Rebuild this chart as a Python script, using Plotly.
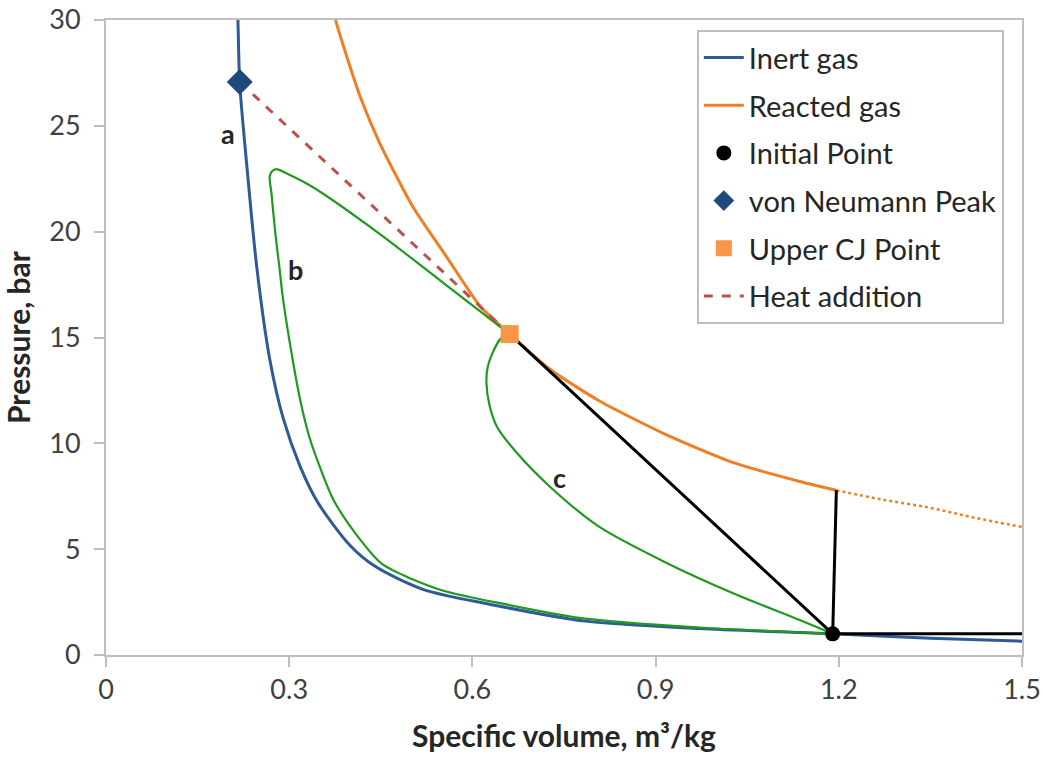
import plotly.graph_objects as go

# ---- data ----
inert_v = [0.2135, 0.216, 0.219, 0.231, 0.247, 0.268, 0.290, 0.318, 0.347, 0.399, 0.440, 0.519, 0.628, 0.785, 0.972, 1.136, 1.19, 1.35, 1.5]
inert_p = [31.5, 30.0, 27.0, 23.0, 18.3, 14.0, 11.2, 8.9, 7.2, 5.2, 4.2, 3.1, 2.4, 1.6, 1.25, 1.06, 1.0, 0.79, 0.65]

react_v = [0.370, 0.376, 0.394, 0.416, 0.448, 0.502, 0.558, 0.612, 0.661, 0.727, 0.808, 0.918, 1.026, 1.136, 1.196]
react_p = [31.0, 30.0, 28.3, 26.4, 24.2, 21.2, 18.8, 16.5, 15.16, 13.5, 12.0, 10.4, 9.1, 8.2, 7.78]

react_ext_v = [1.196, 1.27, 1.35, 1.42, 1.5]
react_ext_p = [7.78, 7.35, 6.95, 6.5, 6.05]

path_b_v = [1.19, 1.136, 0.972, 0.785, 0.645, 0.551, 0.500, 0.452, 0.415, 0.373, 0.350, 0.333, 0.318, 0.306, 0.290, 0.284, 0.277, 0.271, 0.268, 0.272, 0.279, 0.296, 0.339, 0.448, 0.547, 0.661]
path_b_p = [1.0, 1.07, 1.3, 1.72, 2.45, 3.05, 3.6, 4.3, 5.5, 7.3, 8.9, 10.3, 12.05, 13.9, 16.8, 18.3, 20.0, 21.8, 22.6, 22.85, 22.95, 22.75, 22.1, 19.9, 17.7, 15.16]

path_c_v = [0.661, 0.645, 0.632, 0.625, 0.623, 0.628, 0.640, 0.673, 0.727, 0.808, 0.918, 1.026, 1.136, 1.19]
path_c_p = [15.16, 14.9, 14.2, 13.6, 12.85, 11.8, 10.8, 9.54, 7.95, 6.05, 4.35, 2.93, 1.65, 1.0]

rayleigh_v = [0.661, 1.19]
rayleigh_p = [15.16, 1.0]
const_vol_v = [1.19, 1.196]
const_vol_p = [1.0, 7.78]
const_p_v = [1.19, 1.5]
const_p_p = [1.0, 1.0]

heat_v = [0.219, 0.661]
heat_p = [27.07, 15.16]

initial_v, initial_p = [1.19], [1.0]
vn_v, vn_p = [0.219], [27.07]
cj_v, cj_p = [0.661], [15.16]

labels = ["a", "b", "c"]
label_v = [0.200, 0.311, 0.743]
label_p = [24.66, 18.2, 8.4]

x_ticks = [0, 0.3, 0.6, 0.9, 1.2, 1.5]
y_ticks = [0, 5, 10, 15, 20, 25, 30]

# ---- figure ----
BLUE = "#2E5B97"
ORANGE = "#F07E22"
GREEN = "#1E9A1E"
FONT = "Lato"

fig = go.Figure()

fig.add_trace(go.Scatter(x=inert_v, y=inert_p, mode="lines", name="Inert gas",
                         line=dict(color=BLUE, width=3, shape="spline", smoothing=0.8),
                         legendgroup="g1", legendrank=1))
fig.add_trace(go.Scatter(x=react_v, y=react_p, mode="lines", name="Reacted gas",
                         line=dict(color=ORANGE, width=3, shape="spline", smoothing=0.6),
                         legendgroup="g2", legendrank=2))
fig.add_trace(go.Scatter(x=react_ext_v, y=react_ext_p, mode="lines", showlegend=False,
                         line=dict(color=ORANGE, width=2.5, dash="dot", shape="spline")))
fig.add_trace(go.Scatter(x=path_b_v, y=path_b_p, mode="lines", showlegend=False,
                         line=dict(color=GREEN, width=2.2, shape="spline", smoothing=0.8)))
fig.add_trace(go.Scatter(x=path_c_v, y=path_c_p, mode="lines", showlegend=False,
                         line=dict(color=GREEN, width=2.2, shape="spline", smoothing=0.8)))
for xs, ys in [(rayleigh_v, rayleigh_p), (const_vol_v, const_vol_p), (const_p_v, const_p_p)]:
    fig.add_trace(go.Scatter(x=xs, y=ys, mode="lines", showlegend=False,
                             line=dict(color="black", width=3)))
fig.add_trace(go.Scatter(x=heat_v, y=heat_p, mode="lines", name="Heat addition",
                         line=dict(color="#C0504D", width=3, dash="dash"),
                         legendgroup="g6", legendrank=6))
fig.add_trace(go.Scatter(x=initial_v, y=initial_p, mode="markers", name="Initial Point",
                         marker=dict(color="black", size=15, symbol="circle"),
                         legendgroup="g3", legendrank=3))
fig.add_trace(go.Scatter(x=vn_v, y=vn_p, mode="markers", name="von Neumann Peak",
                         marker=dict(color="#1F497D", size=20, symbol="diamond"),
                         legendgroup="g4", legendrank=4))
fig.add_trace(go.Scatter(x=cj_v, y=cj_p, mode="markers", name="Upper CJ Point",
                         marker=dict(color="#F79646", size=18, symbol="square"),
                         legendgroup="g5", legendrank=5))

for t, xv, yv in zip(labels, label_v, label_p):
    fig.add_annotation(x=xv, y=yv, text=f"<b>{t}</b>", showarrow=False,
                       font=dict(family=FONT, size=27, color="#262626"))

axis_common = dict(showline=True, linecolor="#BFBFBF", linewidth=2, mirror=True,
                   ticks="outside", tickcolor="#BFBFBF", ticklen=10, tickwidth=2,
                   showgrid=False, zeroline=False, automargin=False,
                   tickfont=dict(family=FONT, size=27, color="#404040"))

fig.update_xaxes(range=[0, 1.5], tickvals=x_ticks, ticktext=[str(v) for v in x_ticks],
                 title=dict(text="<b>Specific volume, m³/kg</b>", standoff=22,
                            font=dict(family=FONT, size=30, color="#262626")),
                 **axis_common)
fig.update_yaxes(range=[0, 30], tickvals=y_ticks, ticklabelstandoff=8,
                 title=dict(text="<b>Pressure, bar</b>", standoff=12,
                            font=dict(family=FONT, size=30, color="#262626")),
                 **axis_common)

fig.update_layout(
    width=1043, height=758,
    margin=dict(l=106, r=21, t=20, b=103),
    plot_bgcolor="white", paper_bgcolor="white",
    font=dict(family=FONT, size=27, color="#262626"),
    legend=dict(x=0.645, y=0.984, xanchor="left", yanchor="top",
                bordercolor="#BFBFBF", borderwidth=2, bgcolor="white",
                font=dict(family=FONT, size=29, color="#262626"),
                tracegroupgap=7, itemwidth=40),
)

fig.write_html("out.html")
